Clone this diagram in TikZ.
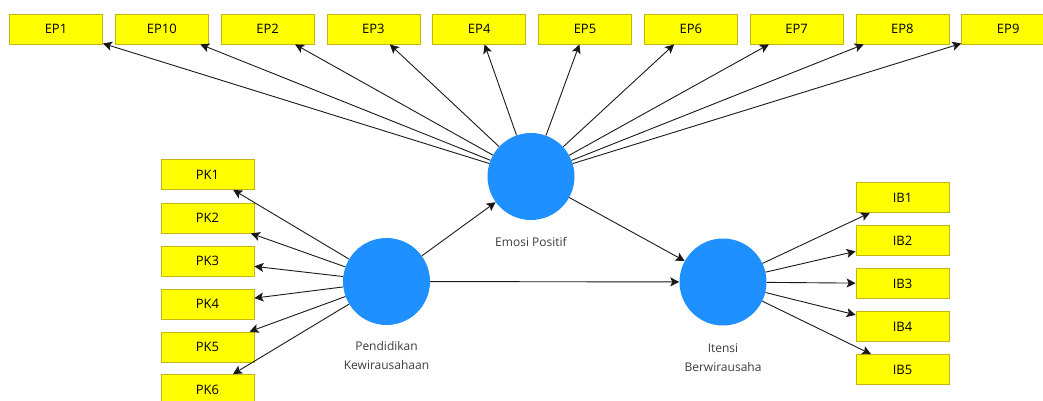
\documentclass[tikz,border=0pt]{standalone}
\usepackage{fontspec}
\setmainfont{Open Sans}
\usepackage{tikz}
\usetikzlibrary{arrows.meta,positioning}

\definecolor{indyellow}{RGB}{255,255,0}
\definecolor{indborder}{RGB}{196,180,20}
\definecolor{latblue}{RGB}{30,144,255}
\definecolor{lbltext}{RGB}{60,60,60}

\begin{document}
\begin{tikzpicture}[
    x=1pt, y=-1pt,
    >={Stealth[length=9pt, width=9pt, inset=2pt]},
    font=\fontsize{13}{15}\selectfont,
    ind/.style={rectangle, draw=indborder, fill=indyellow, line width=0.8pt,
                minimum width=93pt, minimum height=30pt, inner sep=0pt},
    lat/.style={circle, fill=latblue, minimum size=87pt, inner sep=0pt},
    lbl/.style={align=center, text=lbltext, inner sep=0pt,
                font=\fontsize{12}{19}\selectfont},
    ld/.style={->, black!90, line width=0.9pt},
  ]

  %% batas gambar
  \path[use as bounding box, clip] (0,0) rectangle (1043,401);

  %% ===== variabel laten =====
  \node[lat] (ep) at (531, 176.5) {};
  \node[lat] (pk) at (386.5, 281.5) {};
  \node[lat] (ib) at (723, 282) {};

  \node[lbl, below=17pt of ep] {Emosi Positif};
  \node[lbl, below=16pt of pk] {Pendidikan\\Kewirausahaan};
  \node[lbl, below=18pt of ib] {Itensi\\Berwirausaha};

  %% ===== indikator Emosi Positif (atas) =====
  \node[ind] (ep1)  at (56, 29)     {EP1};
  \node[ind] (ep10) at (161.8, 29)  {EP10};
  \node[ind] (ep2)  at (267.6, 29)  {EP2};
  \node[ind] (ep3)  at (373.4, 29)  {EP3};
  \node[ind] (ep4)  at (479.2, 29)  {EP4};
  \node[ind] (ep5)  at (585, 29)    {EP5};
  \node[ind] (ep6)  at (690.8, 29)  {EP6};
  \node[ind] (ep7)  at (796.6, 29)  {EP7};
  \node[ind] (ep8)  at (902.4, 29)  {EP8};
  \node[ind] (ep9)  at (1008.2, 29) {EP9};

  %% ===== indikator Pendidikan Kewirausahaan (kiri) =====
  \node[ind] (pk1) at (207.5, 174.5) {PK1};
  \node[ind] (pk2) at (207.5, 218)   {PK2};
  \node[ind] (pk3) at (207.5, 261)   {PK3};
  \node[ind] (pk4) at (207.5, 304)   {PK4};
  \node[ind] (pk5) at (207.5, 347)   {PK5};
  \node[ind] (pk6) at (207.5, 389.5) {PK6};

  %% ===== indikator Itensi Berwirausaha (kanan) =====
  \node[ind] (ib1) at (902.5, 197.5) {IB1};
  \node[ind] (ib2) at (902.5, 240.5) {IB2};
  \node[ind] (ib3) at (902.5, 283.5) {IB3};
  \node[ind] (ib4) at (902.5, 326.5) {IB4};
  \node[ind] (ib5) at (902.5, 369.5) {IB5};

  %% ===== loading (laten -> indikator) =====
  \draw[ld] (ep) -- (ep1);
  \draw[ld] (ep) -- (ep10);
  \draw[ld] (ep) -- (ep2);
  \draw[ld] (ep) -- (ep3);
  \draw[ld] (ep) -- (ep4);
  \draw[ld] (ep) -- (ep5);
  \draw[ld] (ep) -- (ep6);
  \draw[ld] (ep) -- (ep7);
  \draw[ld] (ep) -- (ep8);
  \draw[ld] (ep) -- (ep9);

  \draw[ld] (pk) -- (pk1);
  \draw[ld] (pk) -- (pk2);
  \draw[ld] (pk) -- (pk3);
  \draw[ld] (pk) -- (pk4);
  \draw[ld] (pk) -- (pk5);
  \draw[ld] (pk) -- (pk6);

  \draw[ld] (ib) -- (ib1);
  \draw[ld] (ib) -- (ib2);
  \draw[ld] (ib) -- (ib3);
  \draw[ld] (ib) -- (ib4);
  \draw[ld] (ib) -- (ib5);

  %% ===== model struktural =====
  \draw[ld] (pk) -- (ep);
  \draw[ld] (pk) -- (ib);
  \draw[ld] (ep) -- (ib);

\end{tikzpicture}
\end{document}
